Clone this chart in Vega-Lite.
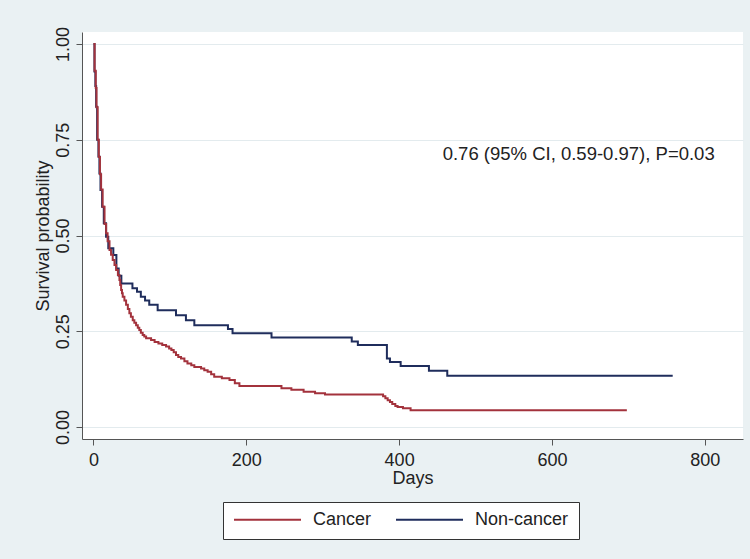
{
  "$schema": "https://vega.github.io/schema/vega-lite/v6.json",
  "width": 661,
  "height": 407,
  "autosize": {"type": "none"},
  "padding": {"left": 82, "top": 32, "right": 7, "bottom": 120},
  "background": "#eaf1f3",
  "config": {
    "view": {"fill": "white", "stroke": null},
    "font": "Liberation Sans"
  },
  "datasets": {
    "km": [
      {"group": "Non-cancer", "day": 0, "surv": 1.0},
      {"group": "Non-cancer", "day": 1.3, "surv": 0.928},
      {"group": "Non-cancer", "day": 2.5, "surv": 0.89},
      {"group": "Non-cancer", "day": 3.5, "surv": 0.836},
      {"group": "Non-cancer", "day": 4.8, "surv": 0.75},
      {"group": "Non-cancer", "day": 6.5, "surv": 0.706},
      {"group": "Non-cancer", "day": 7.8, "surv": 0.662},
      {"group": "Non-cancer", "day": 9.2, "surv": 0.619},
      {"group": "Non-cancer", "day": 11.3, "surv": 0.575},
      {"group": "Non-cancer", "day": 13.5, "surv": 0.532},
      {"group": "Non-cancer", "day": 16.5, "surv": 0.497},
      {"group": "Non-cancer", "day": 19.4, "surv": 0.467},
      {"group": "Non-cancer", "day": 26, "surv": 0.449},
      {"group": "Non-cancer", "day": 30, "surv": 0.414},
      {"group": "Non-cancer", "day": 33, "surv": 0.395},
      {"group": "Non-cancer", "day": 36.5, "surv": 0.375},
      {"group": "Non-cancer", "day": 51, "surv": 0.362},
      {"group": "Non-cancer", "day": 57, "surv": 0.353},
      {"group": "Non-cancer", "day": 62, "surv": 0.340},
      {"group": "Non-cancer", "day": 67.5, "surv": 0.330},
      {"group": "Non-cancer", "day": 73, "surv": 0.319},
      {"group": "Non-cancer", "day": 84, "surv": 0.305},
      {"group": "Non-cancer", "day": 108, "surv": 0.292},
      {"group": "Non-cancer", "day": 121, "surv": 0.279},
      {"group": "Non-cancer", "day": 132, "surv": 0.266},
      {"group": "Non-cancer", "day": 176, "surv": 0.256},
      {"group": "Non-cancer", "day": 182, "surv": 0.245},
      {"group": "Non-cancer", "day": 233, "surv": 0.234},
      {"group": "Non-cancer", "day": 338, "surv": 0.223},
      {"group": "Non-cancer", "day": 346, "surv": 0.214},
      {"group": "Non-cancer", "day": 384, "surv": 0.179},
      {"group": "Non-cancer", "day": 388, "surv": 0.170},
      {"group": "Non-cancer", "day": 402, "surv": 0.159},
      {"group": "Non-cancer", "day": 439, "surv": 0.147},
      {"group": "Non-cancer", "day": 463, "surv": 0.134},
      {"group": "Non-cancer", "day": 758, "surv": 0.134},
      {"group": "Cancer", "day": 0, "surv": 1.0},
      {"group": "Cancer", "day": 1.5, "surv": 0.93},
      {"group": "Cancer", "day": 3, "surv": 0.885},
      {"group": "Cancer", "day": 4, "surv": 0.835},
      {"group": "Cancer", "day": 5.5, "surv": 0.75},
      {"group": "Cancer", "day": 7, "surv": 0.705},
      {"group": "Cancer", "day": 8.5, "surv": 0.66},
      {"group": "Cancer", "day": 10, "surv": 0.62},
      {"group": "Cancer", "day": 12, "surv": 0.575},
      {"group": "Cancer", "day": 14.5, "surv": 0.53},
      {"group": "Cancer", "day": 16.6, "surv": 0.506},
      {"group": "Cancer", "day": 18.5, "surv": 0.485},
      {"group": "Cancer", "day": 21, "surv": 0.462},
      {"group": "Cancer", "day": 23, "surv": 0.45},
      {"group": "Cancer", "day": 25.2, "surv": 0.436},
      {"group": "Cancer", "day": 27.5, "surv": 0.423},
      {"group": "Cancer", "day": 29.7, "surv": 0.410},
      {"group": "Cancer", "day": 32, "surv": 0.397},
      {"group": "Cancer", "day": 34, "surv": 0.384},
      {"group": "Cancer", "day": 35, "surv": 0.371},
      {"group": "Cancer", "day": 36.2, "surv": 0.358},
      {"group": "Cancer", "day": 37.3, "surv": 0.349},
      {"group": "Cancer", "day": 38.3, "surv": 0.340},
      {"group": "Cancer", "day": 40.5, "surv": 0.330},
      {"group": "Cancer", "day": 42.7, "surv": 0.319},
      {"group": "Cancer", "day": 45, "surv": 0.308},
      {"group": "Cancer", "day": 47, "surv": 0.297},
      {"group": "Cancer", "day": 49, "surv": 0.288},
      {"group": "Cancer", "day": 51.4, "surv": 0.279},
      {"group": "Cancer", "day": 53.5, "surv": 0.272},
      {"group": "Cancer", "day": 55.8, "surv": 0.266},
      {"group": "Cancer", "day": 58, "surv": 0.259},
      {"group": "Cancer", "day": 60, "surv": 0.253},
      {"group": "Cancer", "day": 62, "surv": 0.246},
      {"group": "Cancer", "day": 64.4, "surv": 0.240},
      {"group": "Cancer", "day": 66.5, "surv": 0.236},
      {"group": "Cancer", "day": 68.9, "surv": 0.232},
      {"group": "Cancer", "day": 75.4, "surv": 0.227},
      {"group": "Cancer", "day": 80, "surv": 0.222},
      {"group": "Cancer", "day": 85, "surv": 0.218},
      {"group": "Cancer", "day": 90, "surv": 0.214},
      {"group": "Cancer", "day": 95, "surv": 0.210},
      {"group": "Cancer", "day": 99, "surv": 0.205},
      {"group": "Cancer", "day": 102, "surv": 0.201},
      {"group": "Cancer", "day": 105, "surv": 0.195},
      {"group": "Cancer", "day": 108, "surv": 0.188},
      {"group": "Cancer", "day": 111, "surv": 0.183},
      {"group": "Cancer", "day": 114.6, "surv": 0.179},
      {"group": "Cancer", "day": 119, "surv": 0.172},
      {"group": "Cancer", "day": 123, "surv": 0.166},
      {"group": "Cancer", "day": 128, "surv": 0.161},
      {"group": "Cancer", "day": 132, "surv": 0.157},
      {"group": "Cancer", "day": 140.8, "surv": 0.153},
      {"group": "Cancer", "day": 145, "surv": 0.148},
      {"group": "Cancer", "day": 149.4, "surv": 0.144},
      {"group": "Cancer", "day": 154, "surv": 0.138},
      {"group": "Cancer", "day": 158, "surv": 0.131},
      {"group": "Cancer", "day": 168, "surv": 0.127},
      {"group": "Cancer", "day": 178, "surv": 0.123},
      {"group": "Cancer", "day": 185, "surv": 0.114},
      {"group": "Cancer", "day": 191, "surv": 0.107},
      {"group": "Cancer", "day": 246, "surv": 0.101},
      {"group": "Cancer", "day": 259, "surv": 0.097},
      {"group": "Cancer", "day": 275, "surv": 0.092},
      {"group": "Cancer", "day": 290, "surv": 0.088},
      {"group": "Cancer", "day": 303, "surv": 0.085},
      {"group": "Cancer", "day": 379, "surv": 0.080},
      {"group": "Cancer", "day": 382, "surv": 0.075},
      {"group": "Cancer", "day": 385, "surv": 0.070},
      {"group": "Cancer", "day": 388, "surv": 0.065},
      {"group": "Cancer", "day": 391, "surv": 0.060},
      {"group": "Cancer", "day": 395, "surv": 0.055},
      {"group": "Cancer", "day": 398, "surv": 0.052},
      {"group": "Cancer", "day": 405, "surv": 0.049},
      {"group": "Cancer", "day": 415, "surv": 0.044},
      {"group": "Cancer", "day": 698, "surv": 0.044}
    ],
    "note": [
      {"x": 457, "y": 0.713, "label": "0.76 (95% CI, 0.59-0.97), P=0.03"}
    ]
  },
  "layer": [
    {
      "data": {"name": "km"},
      "mark": {"type": "line", "interpolate": "step-after", "strokeWidth": 2, "clip": true},
      "encoding": {
        "x": {
          "field": "day",
          "type": "quantitative",
          "scale": {"domain": [-15, 850], "nice": false, "zero": false},
          "axis": {
            "values": [0, 200, 400, 600, 800],
            "title": "Days",
            "titleFontSize": 18,
            "titleFontWeight": "normal",
            "titleColor": "#222222",
            "labelFontSize": 18,
            "labelColor": "#222222",
            "grid": false,
            "domainColor": "#555555",
            "tickColor": "#555555",
            "tickSize": 6,
            "labelPadding": 6,
            "titlePadding": 0
          }
        },
        "y": {
          "field": "surv",
          "type": "quantitative",
          "scale": {"domain": [-0.0313, 1.0313], "nice": false, "zero": false},
          "axis": {
            "values": [0, 0.25, 0.5, 0.75, 1],
            "format": ".2f",
            "title": "Survival probability",
            "titleFontSize": 18,
            "titleFontWeight": "normal",
            "titleColor": "#222222",
            "titlePadding": 2,
            "labelFontSize": 18,
            "labelColor": "#222222",
            "labelAngle": 270,
            "labelAlign": "center",
            "labelBaseline": "bottom",
            "labelPadding": 4,
            "grid": true,
            "gridColor": "#e3ebee",
            "gridWidth": 1,
            "domainColor": "#555555",
            "tickColor": "#555555",
            "tickSize": 6
          }
        },
        "color": {
          "field": "group",
          "type": "nominal",
          "scale": {"domain": ["Cancer", "Non-cancer"], "range": ["#a3323c", "#1f2d5c"]},
          "legend": {
            "orient": "none",
            "legendX": 141,
            "legendY": 470,
            "direction": "horizontal",
            "title": null,
            "symbolType": "stroke",
            "symbolSize": 4489,
            "symbolStrokeWidth": 2,
            "clipHeight": 15,
            "labelFontSize": 18,
            "labelColor": "#222222",
            "labelOffset": 11,
            "columnPadding": 23,
            "padding": 10,
            "strokeColor": "#333333",
            "fillColor": "white",
            "cornerRadius": 0
          }
        }
      }
    },
    {
      "data": {"name": "note"},
      "mark": {"type": "text", "align": "left", "baseline": "middle", "fontSize": 18.5, "color": "#222222"},
      "encoding": {
        "x": {"field": "x", "type": "quantitative"},
        "y": {"field": "y", "type": "quantitative"},
        "text": {"field": "label"}
      }
    }
  ]
}
